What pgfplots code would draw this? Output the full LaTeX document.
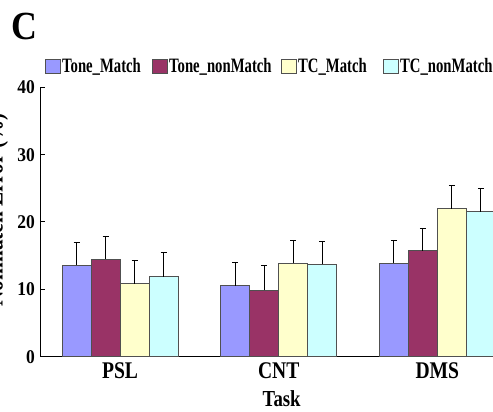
\documentclass[border=0pt]{standalone}
\usepackage{fontspec}
\setmainfont{Liberation Serif}[FakeStretch=0.82]
\newfontfamily\tickfont{Liberation Serif}[FakeStretch=0.9]
\newfontfamily\panelfont{Liberation Serif}[FakeStretch=0.9]
\newfontfamily\legendfont{Liberation Serif}[FakeStretch=0.72]
\usepackage{pgfplots}
\usepackage{pgfplotstable}
\pgfplotsset{compat=1.18}

\definecolor{toneM}{HTML}{9999FF}
\definecolor{toneN}{HTML}{993366}
\definecolor{tcM}{HTML}{FFFFCC}
\definecolor{tcN}{HTML}{CCFFFF}
\definecolor{edge}{HTML}{505050}

% task: 0 = PSL, 1 = CNT, 2 = DMS; err = upper error bar length
\pgfplotstableread{
x y err
0 13.6 3.4
1 10.5 3.5
2 13.9 3.3
}\toneMatch
\pgfplotstableread{
x y err
0 14.5 3.4
1 9.9 3.6
2 15.75 3.35
}\toneNonMatch
\pgfplotstableread{
x y err
0 10.85 3.45
1 13.9 3.3
2 22.0 3.4
}\tcMatch
\pgfplotstableread{
x y err
0 11.9 3.5
1 13.7 3.4
2 21.55 3.45
}\tcNonMatch

\begin{document}
\begin{tikzpicture}
\path[use as bounding box, clip] (0,0) rectangle (493bp,412bp);
\node[font=\panelfont\bfseries\fontsize{40}{40}\selectfont, anchor=base west, inner sep=0pt] at (11bp,372bp) {C};
\begin{axis}[
  scale only axis, width=476bp, height=269.4bp,
  at={(40.7bp,55.3bp)}, anchor=south west,
  xmin=-0.5, xmax=2.5, ymin=0, ymax=40,
  axis x line*=bottom, axis y line*=left,
  axis line style={-, black, line width=1bp},
  ybar=0pt, bar width=29bp,
  xtick={0,1,2}, xticklabels={PSL,CNT,DMS},
  xtick style={draw=none},
  ytick={0,10,20,30,40},
  ytick style={black, line width=1bp},
  tick align=inside, major tick length=4bp,
  /pgf/number format/assume math mode=true,
  yticklabel style={font=\tickfont\bfseries\fontsize{19.5}{20}\selectfont, inner sep=0pt, xshift=-5.7bp},
  xticklabel style={font=\bfseries\fontsize{24}{24}\selectfont, inner sep=0pt, anchor=north, yshift=-5.6bp},
  xlabel={Task},
  xlabel style={font=\bfseries\fontsize{23}{23}\selectfont, at={(axis description cs:0.5,0)}, anchor=base, inner sep=0pt, yshift=-50bp, xshift=3bp},
  ylabel={Nonmatch Error (\%)},
  ylabel style={font=\bfseries\fontsize{26}{26}\selectfont, at={(axis description cs:-0.068,0.545)}, rotate=0, anchor=south, inner sep=0pt},
  legend columns=4,
  legend style={at={(axis description cs:0.009,1.079)}, anchor=west, draw=none, fill=none, inner sep=0pt,
    font=\legendfont\bfseries\fontsize{20.5}{20.5}\selectfont,
    nodes={inner sep=0pt},
    /tikz/every odd column/.append style={column sep=1bp},
    /tikz/every even column/.append style={column sep=0pt}},
  legend image code/.code={\draw[#1, draw=edge, line width=1bp] (0bp,-7bp) rectangle (15bp,7bp);},
  error bars/y dir=plus, error bars/y explicit,
  error bars/error bar style={black, line width=1bp},
  error bars/error mark options={black, line width=1bp, mark size=3bp, rotate=90},
]
\addplot[fill=toneM, draw=edge, line width=1bp] table[x=x, y=y, y error=err] {\toneMatch};
\addlegendentry{\makebox[90bp][l]{Tone\_Match}}
\addplot[fill=toneN, draw=edge, line width=1bp] table[x=x, y=y, y error=err] {\toneNonMatch};
\addlegendentry{\makebox[112bp][l]{Tone\_nonMatch}}
\addplot[fill=tcM, draw=edge, line width=1bp] table[x=x, y=y, y error=err] {\tcMatch};
\addlegendentry{\makebox[85bp][l]{TC\_Match}}
\addplot[fill=tcN, draw=edge, line width=1bp] table[x=x, y=y, y error=err] {\tcNonMatch};
\addlegendentry{TC\_nonMatch}
\end{axis}
\end{tikzpicture}
\end{document}
